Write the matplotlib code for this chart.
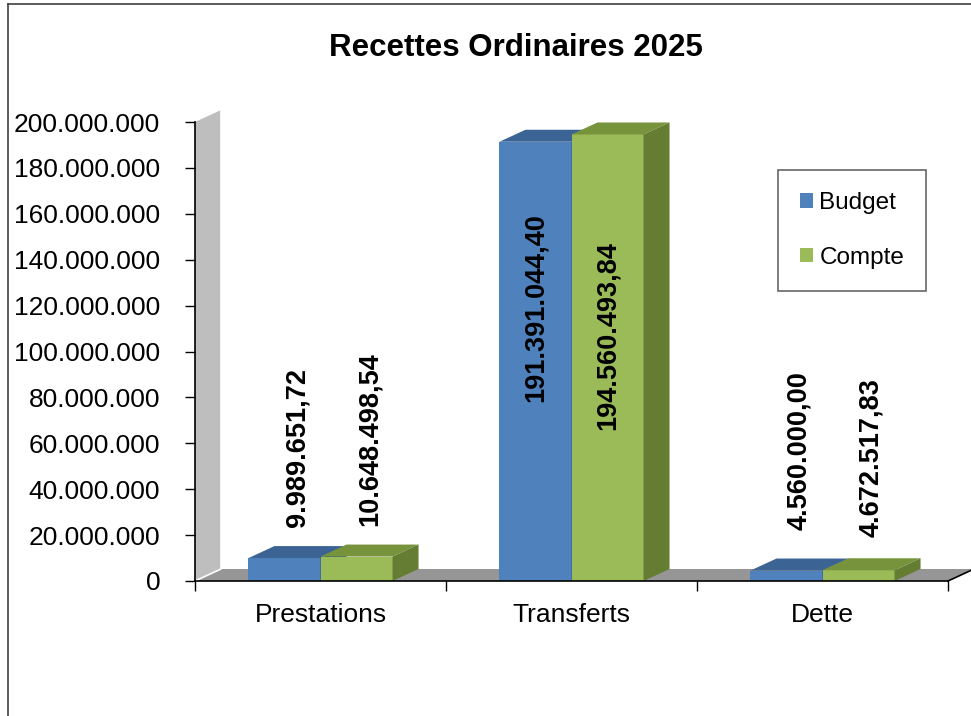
import numpy as np
from matplotlib import pyplot as plt
from matplotlib.patches import Polygon, Patch
from matplotlib.lines import Line2D
from matplotlib.ticker import FuncFormatter

plt.rcParams['font.family'] = ['Liberation Sans', 'DejaVu Sans']

categories = ['Prestations', 'Transferts', 'Dette']
budget = [9989651.72, 191391044.40, 4560000.00]
compte = [10648498.54, 194560493.84, 4672517.83]
series_names = ['Budget', 'Compte']

# label centres (in units of the value axis) as placed on the original
label_y = [[58e6, 119e6, 57e6], [62e6, 107e6, 54e6]]

front = ['#4F81BD', '#9BBB59']
top = ['#3B6494', '#77933C']
side = ['#365A86', '#647D32']


def fmt_num(v, dec=2):
    s = '{:,.{}f}'.format(v, dec)
    return s.replace(',', ' ').replace('.', ',').replace(' ', '.')


W, H = 971, 716
fig = plt.figure(figsize=(W / 100, H / 100), dpi=100)
ax = fig.add_axes([195 / W, (H - 581) / H, (948 - 195) / W, (581 - 122) / H])
ax.set_xlim(-0.5, 2.5)
ax.set_ylim(0, 200e6)

# depth of the fake 3d in pixels -> data units
p0 = ax.transData.transform((0, 0))
d = ax.transData.inverted().transform(p0 + np.array([26, 12]))
dx, dy = d[0], d[1]

x = np.arange(len(categories))
bw = 0.287

# left wall and floor
wall = Polygon([(-0.5, 0), (-0.5, 200e6), (-0.5 + dx, 200e6 + dy), (-0.5 + dx, dy)],
               closed=True, fc='#BEBEBE', ec='none', clip_on=False, zorder=1)
ax.add_patch(wall)
floor = Polygon([(-0.5, 0), (2.5, 0), (2.5 + dx, dy), (-0.5 + dx, dy)],
                closed=True, fc='#969696', ec='none', clip_on=False, zorder=1)
ax.add_patch(floor)
ax.plot([-0.5 + dx, -0.5 + dx, -0.5], [200e6 + dy, dy, 0], color='white', lw=1.2,
        clip_on=False, zorder=1.5)
ax.plot([2.5, 2.5 + dx], [0, dy], color='black', lw=1.2, clip_on=False, zorder=5)

for i, vals in enumerate([budget, compte]):
    xs = x + (i - 0.5) * bw
    ax.bar(xs, vals, width=bw, color=front[i], edgecolor='none', zorder=3 + i)
    for xc, v in zip(xs, vals):
        x0, x1 = xc - bw / 2, xc + bw / 2
        ax.add_patch(Polygon([(x0, v), (x1, v), (x1 + dx, v + dy), (x0 + dx, v + dy)],
                             closed=True, fc=top[i], ec='none', zorder=3 + i, clip_on=False))
        ax.add_patch(Polygon([(x1, 0), (x1, v), (x1 + dx, v + dy), (x1 + dx, dy)],
                             closed=True, fc=side[i], ec='none', zorder=3 + i, clip_on=False))
    for j, (xc, v) in enumerate(zip(xs, vals)):
        tx = xc if v > 100e6 else xc + dx / 2
        ax.text(tx, label_y[i][j], fmt_num(v), rotation=90, ha='center', va='center',
                fontsize=19.5, fontweight='bold', zorder=10)

ax.spines['top'].set_visible(False)
ax.spines['right'].set_visible(False)
ax.spines['left'].set_linewidth(1.2)
ax.spines['bottom'].set_linewidth(1.2)
ax.spines['left'].set_zorder(6)
ax.spines['bottom'].set_zorder(6)

ax.set_yticks(np.arange(0, 200e6 + 1, 20e6))
ax.yaxis.set_major_formatter(FuncFormatter(lambda v, p: fmt_num(v, 0)))
ax.tick_params(axis='y', length=7, width=1, labelsize=19, pad=18)
ax.set_xticks(x)
ax.set_xticklabels(categories)
ax.set_xticks([-0.5, 0.5, 1.5, 2.5], minor=True)
ax.tick_params(axis='x', which='major', length=0, labelsize=19, pad=16)
ax.tick_params(axis='x', which='minor', length=7, width=1)

fig.text(0.531, 1 - 48 / H, 'Recettes Ordinaires 2025', ha='center', va='center',
         fontsize=22.5, fontweight='bold')

handles = [Patch(fc=front[k], ec='none') for k in range(2)]
leg = fig.legend(handles, series_names, loc='upper left',
                 bbox_to_anchor=(778 / W, 1 - 170 / H), bbox_transform=fig.transFigure,
                 fontsize=17.5, frameon=True, fancybox=False, shadow=False,
                 borderaxespad=0, borderpad=0.9, labelspacing=1.35,
                 handlelength=0.55, handleheight=0.55, handletextpad=0.25)
leg.get_frame().set_edgecolor('#404040')
leg.get_frame().set_linewidth(1.2)

# chart frame (left and top edges visible)
fig.add_artist(Line2D([8 / W, 8 / W], [0, 1 - 4 / H], color='#404040', lw=1.2))
fig.add_artist(Line2D([8 / W, 1], [1 - 4 / H, 1 - 4 / H], color='#404040', lw=1.2))

fig.savefig('out.png', dpi=100)
